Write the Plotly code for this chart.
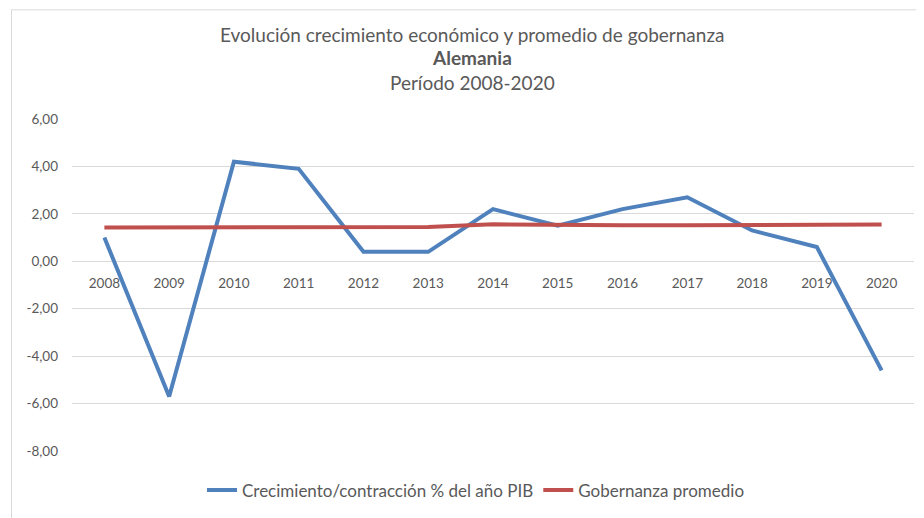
import plotly.graph_objects as go

years = ["2008", "2009", "2010", "2011", "2012", "2013", "2014", "2015", "2016", "2017", "2018", "2019", "2020"]
crecimiento = [1.0, -5.7, 4.2, 3.9, 0.4, 0.4, 2.2, 1.5, 2.2, 2.7, 1.3, 0.6, -4.6]
gobernanza = [1.42, 1.42, 1.42, 1.42, 1.42, 1.45, 1.56, 1.52, 1.52, 1.52, 1.52, 1.55, 1.55]
y_tick_vals = [6, 4, 2, 0, -2, -4, -6, -8]
y_tick_labels = ["6,00", "4,00", "2,00", "0,00", "-2,00", "-4,00", "-6,00", "-8,00"]
name_crec = "Crecimiento/contracción % del año PIB"
name_gob = "Gobernanza promedio"
title_lines = ["Evolución crecimiento económico y promedio de gobernanza", "<b>Alemania</b>", "Período 2008-2020"]

FONT = "Lato"
GRAY = "#595959"

# page body has an 8px margin; work in page pixels and convert
OFF = 8
W, H = 924 - OFF, 518 - OFF
PL, PR, PT, PB = 72, 914, 119, 455   # plot area in page pixels
L, R, T, B = PL - OFF, W - (PR - OFF), PT - OFF, H - (PB - OFF)
pw, ph = W - L - R, H - T - B

def px_x(x):
    return (x - OFF - L) / pw

def px_y(y):
    return (H - B - (y - OFF)) / ph

fig = go.Figure()
fig.add_trace(go.Scatter(x=years, y=crecimiento, mode="lines", name=name_crec,
                         line=dict(color="#4F81BD", width=4)))
fig.add_trace(go.Scatter(x=years, y=gobernanza, mode="lines", name=name_gob,
                         line=dict(color="#C0504D", width=4)))

ymin, ymax = -8, 6
fig.update_layout(
    width=W, height=H,
    margin=dict(l=L, r=R, t=T, b=B),
    paper_bgcolor="white", plot_bgcolor="white",
    font=dict(family=FONT, color=GRAY, size=13),
    showlegend=True,
    legend=dict(orientation="h", x=px_x(476), xanchor="center", y=px_y(495), yanchor="middle",
                font=dict(size=17, color=GRAY), traceorder="normal", bgcolor="rgba(0,0,0,0)"),
    xaxis=dict(type="category", range=[-0.5, 12.5], showgrid=False, zeroline=False,
               showline=False, ticks="", anchor="free", position=(0 - ymin) / (ymax - ymin),
               tickfont=dict(size=13.5, color=GRAY), ticklabelstandoff=12),
    yaxis=dict(range=[ymin, ymax], tickvals=y_tick_vals, ticktext=y_tick_labels,
               showgrid=True, gridcolor="#D9D9D9", gridwidth=1, zeroline=False,
               showline=False, ticks="", tickfont=dict(size=13.5, color=GRAY),
               ticklabelstandoff=13),
)

# Title lines
ys = [33, 57, 82]
for txt, yy in zip(title_lines, ys):
    fig.add_annotation(text=txt, xref="paper", yref="paper", x=px_x(472), y=px_y(yy),
                       xanchor="center", yanchor="middle", showarrow=False,
                       font=dict(family=FONT, size=19, color=GRAY))

# Chart area border (Excel style)
fig.add_shape(type="rect", xref="paper", yref="paper",
              x0=px_x(11.5), x1=px_x(940), y0=px_y(540), y1=px_y(8.5),
              line=dict(color="#D9D9D9", width=1), fillcolor="rgba(0,0,0,0)", layer="below")

fig.write_html("out.html")
